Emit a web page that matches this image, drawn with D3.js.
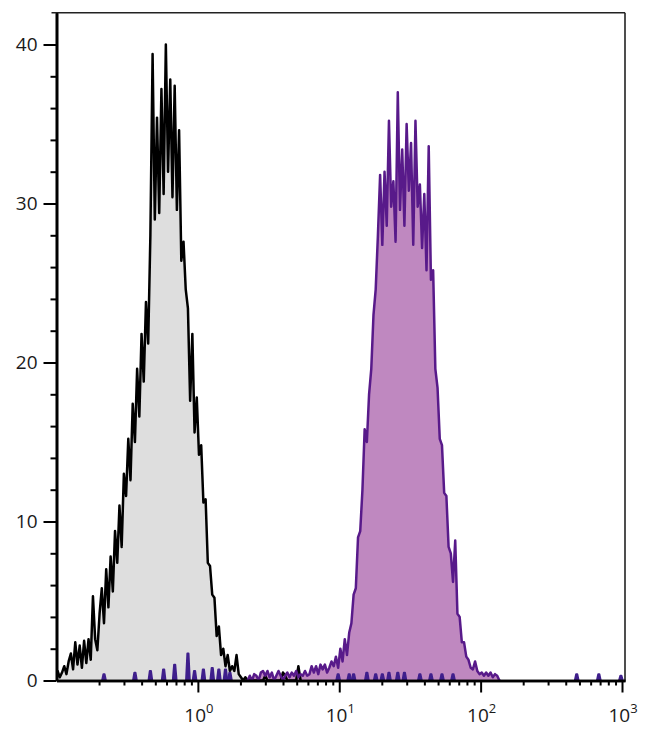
<!DOCTYPE html>
<html><head><meta charset="utf-8">
<script src="https://cdn.jsdelivr.net/npm/d3@7"></script>
<style>body{margin:0;background:#fff}svg{display:block}</style>
</head><body><svg id="c" width="650" height="744"></svg>
<script>
// histogram channels: 64 per decade, starting at 10^-1
const channelsPerDecade = 64;
const firstDecade = -1;

// isotype control (grey)
const controlStart = 0;
const controlCounts = [
 0.6,0.2,0.5,0.9,0.4,1.2,1.7,0.7,2.4,1.0,
 2.2,0.8,2.5,1.1,2.6,1.3,5.3,2.6,1.9,4.2,
 5.8,3.6,7.0,4.6,7.8,5.6,9.4,7.4,11.0,8.4,
 13.0,11.6,15.2,12.6,17.4,15.0,19.6,16.6,21.8,18.8,
 23.8,21.2,28.0,39.4,29.0,35.4,29.4,37.2,30.6,40.0,
 32.0,37.8,30.4,37.4,29.6,34.6,26.4,27.6,24.6,23.4,
 17.6,21.8,15.6,17.8,14.2,14.8,11.2,11.4,7.4,7.2,
 5.4,5.2,2.8,3.4,1.6,2.0,0.9,1.6,0.6,0.9,
 0.6,1.6,0.4,0.2,0,0.2,0,0,0,0,
 0,0,0,0,0.3,0,0,0,0,0,
 0,0,0.5,0.3,0,0,0,0,0,0.9,
 0];

// stained sample (purple)
const stainedStart = 86;
const stainedCounts = [
 0,0.3,0,0.4,0.3,0,0.5,0.6,0.3,0.6,
 0.2,0.5,0,0.3,0.6,0.3,0,0.3,0.5,0.2,
 0.5,0.3,0.6,0.2,0.4,0.3,0.6,0.3,0.4,0.9,
 0.5,0.9,0.4,1.0,0.7,1.0,0.5,0.8,1.2,0.9,
 1.5,0.8,2.0,1.2,2.6,1.6,3.0,3.6,5.4,5.8,
 9.0,9.4,12.0,15.8,15.0,18.0,19.6,23.0,24.6,28.0,
 31.8,27.4,32.0,28.6,35.2,29.8,31.4,27.6,37.0,29.6,
 33.4,28.6,35.0,30.8,33.8,27.4,35.2,29.8,31.2,27.2,
 30.6,25.8,33.6,25.2,25.8,19.6,18.4,15.2,14.8,11.8,
 11.6,8.4,8.0,6.2,8.8,4.2,4.0,2.4,2.4,1.5,
 1.3,0.8,0.7,1.2,0.6,0.4,0.5,0.3,0.5,0.3,
 0.5,0.2,0.4,0.3,0];

// sparse events (dark indigo)
const sparseChannels = [21,35,42,48,53,59,62,66,70,73,76,78,127,132,134,140,144,147,150,154,157,164,169,174,179,235,245,255];
const sparseCounts   = [0.4,0.5,0.6,0.7,1.0,1.7,0.6,0.7,0.8,0.7,0.7,0.5,0.4,0.4,0.4,0.5,0.4,0.4,0.5,0.5,0.5,0.4,0.4,0.4,0.4,0.4,0.4,0.3];

const yMajorTicks = [0,10,20,30,40];
const yMinorTicks = [2,4,6,8,12,14,16,18,22,24,26,28,32,34,36,38,40];
const xExponents = [0,1,2,3];

const svg = d3.select("#c");
const L = 56.5, R = 625, T = 12.7, B = 680.5;
const x = d3.scaleLog().domain([0.1, 1050]).range([L, R]);
const y = d3.scaleLinear().domain([0, 42]).range([B, T]);
const chVal = ch => Math.pow(10, firstDecade + (ch + 0.5) / channelsPerDecade);

function series(start, counts) {
  const pts = counts.map((c, k) => [chVal(start + k), c]);
  pts.unshift([chVal(start - 0.5), 0]);
  pts.push([chVal(start + counts.length - 0.5), 0]);
  return pts;
}
const ctrl = series(controlStart, controlCounts);
const stn = series(stainedStart, stainedCounts);

const area = d3.area().x(d => x(d[0])).y0(y(0)).y1(d => y(d[1]));
const line = d3.line().x(d => x(d[0])).y(d => y(d[1]));

svg.append("defs").append("clipPath").attr("id","clip")
  .append("rect").attr("x", L).attr("y", T).attr("width", R - L).attr("height", B - T);
const g = svg.append("g").attr("clip-path","url(#clip)");

g.append("path").datum(ctrl).attr("d", area).attr("fill", "#dedede");
g.append("path").datum(stn).attr("d", area).attr("fill", "#bf88c0");
g.append("path").datum(ctrl).attr("d", line).attr("fill","none").attr("stroke","#000").attr("stroke-width",2.5).attr("stroke-linejoin","round");
g.append("path").datum(stn).attr("d", line).attr("fill","none").attr("stroke","#581a8a").attr("stroke-width",2.5).attr("stroke-linejoin","round");

sparseChannels.forEach((ch, k) => {
  const pts = [[chVal(ch - 0.9), 0], [chVal(ch - 0.3), sparseCounts[k]], [chVal(ch + 0.3), sparseCounts[k]], [chVal(ch + 0.9), 0]];
  g.append("path").datum(pts).attr("d", area).attr("fill", "#3f1f8c").attr("stroke", "#3f1f8c").attr("stroke-width", 1.8).attr("stroke-linejoin","round");
});

// frame (top, right)
svg.append("line").attr("x1", L - 5).attr("x2", R).attr("y1", T).attr("y2", T).attr("stroke","#222").attr("stroke-width",1.6);
svg.append("line").attr("x1", R).attr("x2", R).attr("y1", T).attr("y2", B).attr("stroke","#222").attr("stroke-width",1.6);

const font = "'Open Sans', 'Noto Sans', sans-serif";

// y axis
const yMinor = svg.append("g").attr("transform", `translate(${L},0)`)
  .call(d3.axisLeft(y).tickValues(yMinorTicks).tickSize(6).tickSizeOuter(0).tickFormat(""));
const yMajor = svg.append("g").attr("transform", `translate(${L},0)`)
  .call(d3.axisLeft(y).tickValues(yMajorTicks).tickSize(13).tickSizeOuter(0).tickPadding(6));
[yMinor, yMajor].forEach(a => {
  a.select(".domain").attr("stroke","#000").attr("stroke-width",2.6);
  a.selectAll(".tick line").attr("stroke","#000").attr("stroke-width",2);
});
yMajor.selectAll(".tick text").attr("font-family", font).attr("font-size", 19).attr("fill","#1a1a1a");

// x axis
const minors = [];
for (let e = -1; e < 3; e++) for (let m = 2; m <= 9; m++) minors.push(m * Math.pow(10, e));
const xMinor = svg.append("g").attr("transform", `translate(0,${B})`)
  .call(d3.axisBottom(x).tickValues(minors).tickSize(5).tickSizeOuter(0).tickFormat(""));
const xMajor = svg.append("g").attr("transform", `translate(0,${B})`)
  .call(d3.axisBottom(x).tickValues(xExponents.map(e => Math.pow(10, e))).tickSize(12).tickSizeOuter(0).tickFormat(""));
[xMinor, xMajor].forEach(a => {
  a.select(".domain").attr("stroke","#000").attr("stroke-width",2.6);
  a.selectAll(".tick line").attr("stroke","#000").attr("stroke-width",2);
});
const lab = svg.append("g").selectAll("text").data(xExponents).join("text")
  .attr("x", e => x(Math.pow(10, e)) + 1).attr("y", 722)
  .attr("text-anchor","middle").attr("font-family", font).attr("fill","#1a1a1a");
lab.append("tspan").attr("font-size", 19).text("10");
lab.append("tspan").attr("font-size", 13).attr("dy", -9).text(e => e);
</script></body></html>
